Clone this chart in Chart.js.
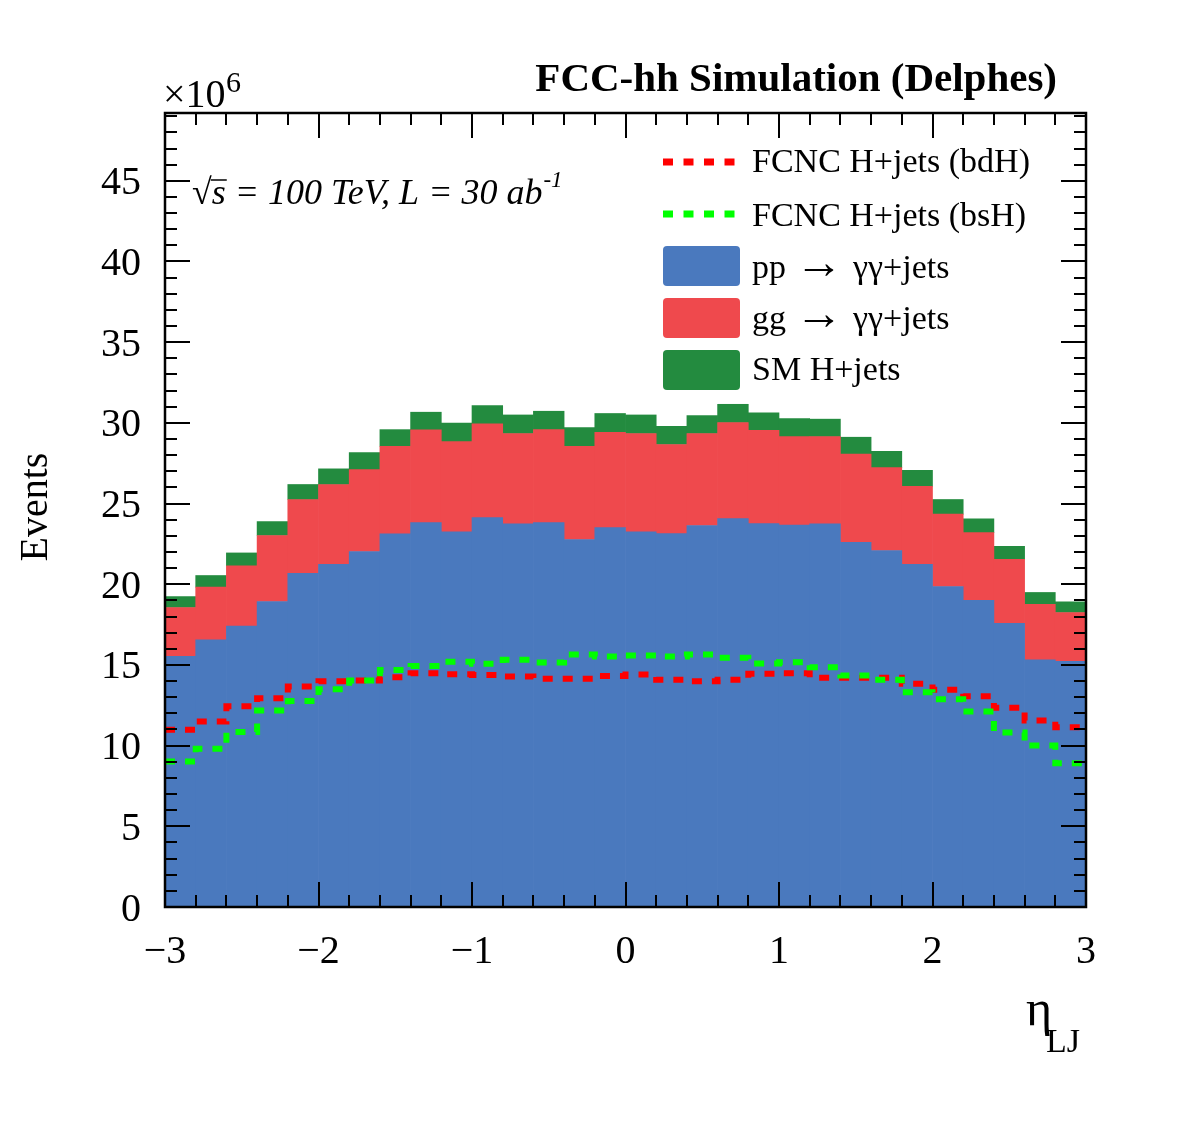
<!DOCTYPE html>
<html><head><meta charset="utf-8">
<script src="https://cdn.jsdelivr.net/npm/chart.js@4.4.1/dist/chart.umd.min.js"></script>
<style>html,body{margin:0;padding:0;background:#fff;} canvas{display:block;}</style>
</head><body>
<canvas id="c" width="1182" height="1134"></canvas>
<script>
// ---- data (values in units of 10^6 events) ----
const binCenters = [-2.9,-2.7,-2.5,-2.3,-2.1,-1.9,-1.7,-1.5,-1.3,-1.1,-0.9,-0.7,-0.5,-0.3,-0.1,
                     0.1, 0.3, 0.5, 0.7, 0.9, 1.1, 1.3, 1.5, 1.7, 1.9, 2.1, 2.3, 2.5, 2.7, 2.9];
const ppGammaGamma = [15.54,16.55,17.40,18.93,20.68,21.24,22.03,23.12,23.82,23.25,24.13,23.74,23.82,22.77,23.51,
                      23.25,23.14,23.64,24.07,23.76,23.66,23.74,22.60,22.09,21.24,19.86,19.01,17.57,15.32,15.23];
const ggGammaGamma = [3.02,3.27,3.74,4.09,4.57,4.94,5.07,5.43,5.75,5.59,5.81,5.60,5.76,5.78,5.91,
                      6.09,5.52,5.70,5.95,5.78,5.49,5.41,5.46,5.14,4.83,4.48,4.19,3.98,3.44,3.02];
const smHiggsJets  = [0.68,0.72,0.80,0.86,0.93,0.97,1.06,1.03,1.09,1.14,1.13,1.15,1.14,1.16,1.16,
                      1.15,1.13,1.11,1.13,1.08,1.12,1.08,1.05,1.01,0.99,0.91,0.85,0.80,0.73,0.66];
const fcncBdH = [10.98,11.49,12.44,12.94,13.66,13.99,14.03,14.24,14.49,14.42,14.37,14.28,14.14,14.14,14.31,
                 14.40,14.08,13.99,14.08,14.45,14.49,14.20,14.20,14.20,13.83,13.46,13.06,12.35,11.56,11.14];
const fcncBsH = [9.02,9.80,10.85,12.17,12.77,13.50,14.03,14.69,14.94,15.19,15.07,15.32,15.15,15.64,15.52,
                 15.58,15.52,15.64,15.44,15.09,15.17,14.86,14.34,14.08,13.31,12.88,12.11,10.81,10.00,8.91];
const seriesLabels = ['FCNC H+jets (bdH)','FCNC H+jets (bsH)','pp  \u2192  \u03b3\u03b3+jets','gg  \u2192  \u03b3\u03b3+jets','SM H+jets'];
const xRange = [-3, 3];
const yRange = [0, 49.2];

const SERIF = '"Liberation Serif", "Times New Roman", serif';
const COL = {pp:'#4a79be', gg:'#ef494d', sm:'#238b3f', bd:'#ff0000', bs:'#00ff00'};

function barPoints(vals){ return binCenters.map((c,i)=>({x:c, y:vals[i]})); }
function stepPoints(vals){
  const half = (binCenters[1]-binCenters[0])/2;
  const pts = binCenters.map((c,i)=>({x:c-half, y:vals[i]}));
  pts.push({x:binCenters[binCenters.length-1]+half, y:vals[vals.length-1]});
  return pts;
}

function drawLabel(ctx, text, x, y){
  const parts = text.split('\u2192');
  if(parts.length===1){ ctx.fillText(text,x,y); return; }
  ctx.fillText(parts[0].trim(), x, y);
  ctx.save(); ctx.font='48px '+SERIF; ctx.fillText('\u2192', 795, y); ctx.restore();
  ctx.fillText(parts[1].trim(), 853, y);
}

const decor = {
  id:'decor',
  beforeDraw(chart){
    const ctx=chart.ctx; ctx.save(); ctx.fillStyle='#fff'; ctx.fillRect(0,0,chart.width,chart.height); ctx.restore();
  },
  afterDatasetsDraw(chart){
    const ctx=chart.ctx, a=chart.chartArea, xs=chart.scales.x, ys=chart.scales.y;
    ctx.save();
    ctx.strokeStyle='#000'; ctx.lineWidth=2;
    ctx.beginPath();
    for(let k=0;k<=30;k++){
      const v=-3+k*0.2; const px=Math.round(xs.getPixelForValue(v));
      const major = (k%5===0); const L = major?25:12;
      ctx.moveTo(px,a.bottom); ctx.lineTo(px,a.bottom-L);
      ctx.moveTo(px,a.top); ctx.lineTo(px,a.top+L);
    }
    for(let v=0; v<=49; v++){
      const py=Math.round(ys.getPixelForValue(v));
      const major=(v%5===0); const L=major?25:12;
      ctx.moveTo(a.left,py); ctx.lineTo(a.left+L,py);
      ctx.moveTo(a.right,py); ctx.lineTo(a.right-L,py);
    }
    ctx.stroke();
    ctx.lineWidth=2.5;
    ctx.strokeRect(a.left,a.top,a.right-a.left,a.bottom-a.top);
    ctx.restore();
  },
  afterDraw(chart){
    const ctx=chart.ctx;
    ctx.save();
    ctx.fillStyle='#000';
    ctx.textBaseline='alphabetic';
    // header
    ctx.font='bold 41px '+SERIF; ctx.textAlign='right';
    ctx.fillText('FCC-hh Simulation (Delphes)',1057,91);
    // x10^6
    ctx.textAlign='left';
    ctx.font='40px '+SERIF; ctx.fillText('\u00d710',163,107);
    ctx.font='30px '+SERIF; ctx.fillText('6',226,92);
    // sqrt(s) line
    ctx.font='36px '+SERIF; ctx.fillText('\u221a',192,204);
    let x=192+ctx.measureText('\u221a').width;
    ctx.font='italic 36px '+SERIF;
    const sW=ctx.measureText('s').width;
    ctx.fillText('s',x,204);
    ctx.lineWidth=1.5; ctx.beginPath(); ctx.moveTo(x-1,180); ctx.lineTo(x+sW+1,180); ctx.stroke();
    x+=sW;
    const t1=' = 100 TeV, L = 30 ab';
    ctx.fillText(t1,x,204); x+=ctx.measureText(t1).width;
    ctx.font='italic 23px '+SERIF; ctx.fillText('-1',x+1,187);
    // y title
    ctx.save(); ctx.translate(47,507); ctx.rotate(-Math.PI/2);
    ctx.font='40px '+SERIF; ctx.textAlign='center'; ctx.fillText('Events',0,0); ctx.restore();
    // x title
    ctx.textAlign='left';
    ctx.font='50px '+SERIF; ctx.fillText('\u03b7',1026,1025);
    ctx.font='34px '+SERIF; ctx.fillText('LJ',1046,1052);
    // legend
    const lx=663, lw=77, tx=752;
    ctx.font='34px '+SERIF;
    const lineRows=[{y:162,c:COL.bd,t:seriesLabels[0],b:172},{y:214,c:COL.bs,t:seriesLabels[1],b:226}];
    lineRows.forEach(r=>{
      ctx.save(); ctx.strokeStyle=r.c; ctx.lineWidth=7; ctx.setLineDash([10,10.5]); ctx.lineCap='butt';
      ctx.beginPath(); ctx.moveTo(lx,r.y); ctx.lineTo(lx+lw,r.y); ctx.stroke(); ctx.restore();
      ctx.fillText(r.t,tx,r.b);
    });
    const boxRows=[{top:246,c:COL.pp,t:seriesLabels[2],b:278},{top:298,c:COL.gg,t:seriesLabels[3],b:329},{top:350,c:COL.sm,t:seriesLabels[4],b:380}];
    boxRows.forEach(r=>{
      ctx.fillStyle=r.c; ctx.beginPath(); ctx.roundRect(lx,r.top,lw,40,4); ctx.fill();
      ctx.fillStyle='#000'; drawLabel(ctx,r.t,tx,r.b);
    });
    ctx.restore();
  }
};

const lineCommon = {type:'line', yAxisID:'y2', stepped:'before', pointRadius:0, borderWidth:6,
  borderDash:[10,10], borderCapStyle:'butt', fill:false, order:0, tension:0};

new Chart(document.getElementById('c'), {
  type:'bar',
  data:{ datasets:[
    Object.assign({label:seriesLabels[1], data:stepPoints(fcncBsH), borderColor:COL.bs}, lineCommon),
    Object.assign({label:seriesLabels[0], data:stepPoints(fcncBdH), borderColor:COL.bd}, lineCommon),
    {label:seriesLabels[2], data:barPoints(ppGammaGamma), backgroundColor:COL.pp, order:1},
    {label:seriesLabels[3], data:barPoints(ggGammaGamma), backgroundColor:COL.gg, order:1},
    {label:seriesLabels[4], data:barPoints(smHiggsJets), backgroundColor:COL.sm, order:1}
  ]},
  options:{
    responsive:false, animation:false, devicePixelRatio:1,
    layout:{padding:{left:0, right:96, top:113, bottom:0}},
    datasets:{bar:{barPercentage:1, categoryPercentage:1, borderWidth:0}},
    plugins:{legend:{display:false}, tooltip:{enabled:false}},
    scales:{
      x:{type:'linear', min:xRange[0], max:xRange[1], offset:false, stacked:true,
         grid:{display:false, drawTicks:false}, border:{display:false},
         ticks:{stepSize:1, padding:21, color:'#000', font:{family:SERIF, size:40},
                callback:v=>Number.isInteger(v)?(v<0?'\u2212'+Math.abs(v):String(v)):''},
         afterFit:s=>{s.height=227;}},
      y:{type:'linear', min:yRange[0], max:yRange[1], stacked:true,
         grid:{display:false, drawTicks:false}, border:{display:false},
         ticks:{stepSize:5, includeBounds:false, padding:24, labelOffset:3, color:'#000', font:{family:SERIF, size:40},
                callback:v=>(v%5===0)?String(v):''},
         afterFit:s=>{s.width=165;}},
      y2:{type:'linear', min:yRange[0], max:yRange[1], stacked:false, display:false}
    }
  },
  plugins:[decor]
});
</script>
</body></html>
